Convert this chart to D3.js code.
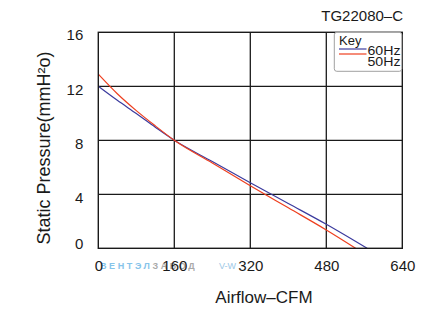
<!DOCTYPE html>
<html>
<head>
<meta charset="utf-8">
<script src="https://cdn.jsdelivr.net/npm/d3@7"></script>
<style>
html,body{margin:0;padding:0;background:#fff;}
svg{display:block;font-family:"Liberation Sans",Arial,Helvetica,sans-serif;}
</style>
</head>
<body>
<div id="chart"></div>
<script>
// ---- data ----
const chartTitle = "TG22080\u2013C";
const xLabel = "Airflow\u2013CFM";
const yLabel = "Static Pressure(mmH\u00B2o)";
const xTicks = [0, 160, 320, 480, 640];
const yTicks = [0, 4, 8, 12, 16];
const seriesNames = ["60Hz", "50Hz"];
const airflow60 = [0, 40, 80, 120, 160, 240, 320, 400, 480, 566];
const pressure60 = [12.0, 10.96, 9.98, 8.97, 8.0, 6.43, 4.86, 3.32, 1.78, 0];
const airflow50 = [0, 40, 80, 120, 160, 240, 320, 400, 480, 542];
const pressure50 = [12.9, 11.45, 10.2, 9.07, 8.0, 6.32, 4.64, 3.0, 1.36, 0];
const colors = ["#3b3b9e", "#ee3f1f"];

// ---- layout ----
const W = 437, H = 329;
const m = {left: 98.3, top: 32.3, right: 402.3, bottom: 248.3};

const svg = d3.select("#chart").append("svg").attr("width", W).attr("height", H);

const x = d3.scaleLinear().domain([xTicks[0], xTicks[xTicks.length-1]]).range([m.left, m.right]);
const y = d3.scaleLinear().domain([yTicks[0], yTicks[yTicks.length-1]]).range([m.bottom, m.top]);

// watermark (faint)
const wm = svg.append("text").attr("x", 100).attr("y", 269.3)
  .attr("font-size", 9).attr("font-weight", "bold").attr("letter-spacing", 2.6);
wm.append("tspan").attr("fill", "#86c4ea").text("ВЕНТЭЛ");
wm.append("tspan").attr("fill", "#a9a9a9").text("ЗАВОД");
svg.append("text").attr("x", 219).attr("y", 269.3).attr("font-size", 9)
  .attr("fill", "#9cc8e6").text("V-W");

// grid
const grid = svg.append("g").attr("stroke", "#1a1a1a").attr("stroke-width", 1.3);
grid.selectAll("line.v").data(xTicks.slice(1, -1)).join("line")
  .attr("x1", d => x(d)).attr("x2", d => x(d)).attr("y1", m.top).attr("y2", m.bottom);
grid.selectAll("line.h").data(yTicks.slice(1, -1)).join("line")
  .attr("y1", d => y(d)).attr("y2", d => y(d)).attr("x1", m.left).attr("x2", m.right);

// axes
const xAxis = d3.axisBottom(x).tickValues(xTicks).tickSize(0).tickPadding(0).tickFormat(d3.format("d"));
const gx = svg.append("g").attr("transform", `translate(0,${m.bottom})`).call(xAxis);
gx.select(".domain").remove();
gx.selectAll("text").attr("y", 22.7).attr("dy", 0).attr("font-size", 15)
  .attr("font-family", "'Liberation Sans',Arial,sans-serif").attr("fill", "#1a1a1a");

const yAxis = d3.axisLeft(y).tickValues(yTicks).tickSize(0).tickPadding(15).tickFormat(d3.format("d"));
const gy = svg.append("g").attr("transform", `translate(${m.left},0)`).call(yAxis);
gy.select(".domain").remove();
// vertical nudge of the y labels as in the reference (bottom label sits above its line)
const yNudge = d => (d === yTicks[0] ? -5.3 : (d === yTicks[yTicks.length-1] ? 1.7 : 3));
gy.selectAll("text").attr("dy", d => (5.4 + yNudge(d)) + "px").attr("font-size", 15)
  .attr("font-family", "'Liberation Sans',Arial,sans-serif").attr("fill", "#1a1a1a");

// curves
const line = d3.line().x(d => x(d[0])).y(d => y(d[1])).curve(d3.curveMonotoneX);
const s60 = airflow60.map((a, i) => [a, pressure60[i]]);
const s50 = airflow50.map((a, i) => [a, pressure50[i]]);
svg.append("path").datum(s60).attr("d", line).attr("fill", "none")
  .attr("stroke", colors[0]).attr("stroke-width", 1.2);
svg.append("path").datum(s50).attr("d", line).attr("fill", "none")
  .attr("stroke", colors[1]).attr("stroke-width", 1.2);

// border
svg.append("rect").attr("x", m.left).attr("y", m.top)
  .attr("width", m.right - m.left).attr("height", m.bottom - m.top)
  .attr("fill", "none").attr("stroke", "#1a1a1a").attr("stroke-width", 1.4);

// legend
const lg = svg.append("g");
lg.append("rect").attr("x", 334.3).attr("y", 32.3).attr("width", 67.5).attr("height", 39)
  .attr("rx", 2.5).attr("fill", "#fff").attr("stroke", "#a0a0a0").attr("stroke-width", 1);
lg.append("text").attr("x", 339).attr("y", 44.7).attr("font-size", 13).attr("fill", "#1a1a1a").text("Key");
seriesNames.forEach((n, i) => {
  lg.append("line").attr("x1", 339).attr("x2", 366.5)
    .attr("y1", 49 + i * 5).attr("y2", 49 + i * 5)
    .attr("stroke", colors[i]).attr("stroke-width", 1.2);
  lg.append("text").attr("x", 367.5).attr("y", 55.4 + i * 10.5)
    .attr("font-size", 12.5).attr("fill", "#1a1a1a")
    .attr("textLength", 33).attr("lengthAdjust", "spacingAndGlyphs").text(n);
});

// titles
svg.append("text").attr("x", 403).attr("y", 20.5).attr("text-anchor", "end")
  .attr("font-size", 15).attr("fill", "#1a1a1a").text(chartTitle);
svg.append("text").attr("x", 264).attr("y", 303.3).attr("text-anchor", "middle")
  .attr("font-size", 17).attr("fill", "#1a1a1a").text(xLabel);
svg.append("text").attr("transform", "translate(50,148) rotate(-90)").attr("text-anchor", "middle")
  .attr("font-size", 18).attr("fill", "#1a1a1a").text(yLabel);
</script>
</body>
</html>
